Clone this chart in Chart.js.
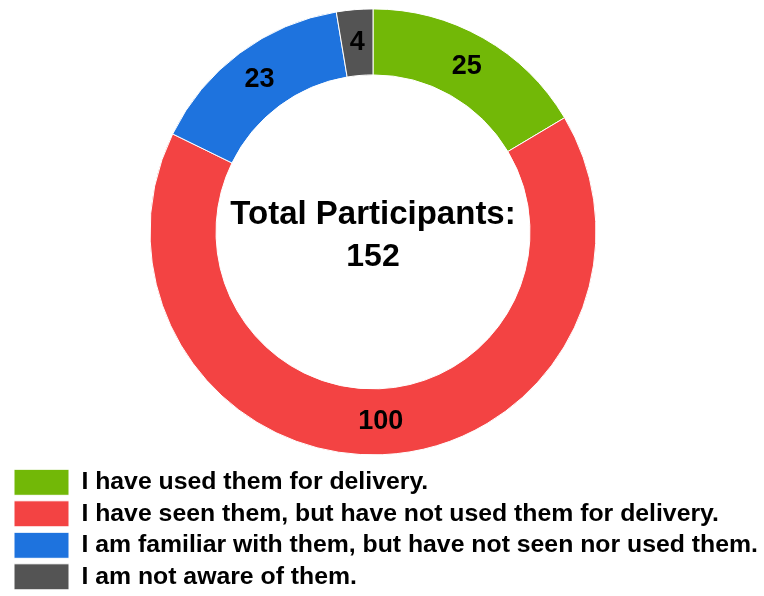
<!DOCTYPE html>
<html>
<head>
<meta charset="utf-8">
<script src="https://cdn.jsdelivr.net/npm/chart.js@4.4.1/dist/chart.umd.min.js"></script>
<style>
  html, body { margin: 0; padding: 0; background: #ffffff; }
  #wrap { width: 764px; height: 596px; position: relative; }
</style>
</head>
<body>
<div id="wrap"><canvas id="c"></canvas></div>
<script>
const categories = [
  "I have used them for delivery.",
  "I have seen them, but have not used them for delivery.",
  "I am familiar with them, but have not seen nor used them.",
  "I am not aware of them."
];
const participantCounts = [25, 100, 23, 4];
const sliceColors = ["#72b807", "#f34343", "#1e73de", "#545454"];
const centerTitle = "Total Participants:";

const FONT = "'Liberation Sans', Arial, Helvetica, sans-serif";

const legendTrim = {
  id: 'legendTrim',
  beforeUpdate(chart) {
    const lg = chart.legend;
    if (lg && !lg._trimmed) {
      const orig = lg.fit;
      lg.fit = function () { orig.call(this); this.height -= 3.8; };
      lg._trimmed = true;
    }
  }
};

const labelsAndCenter = {
  id: 'labelsAndCenter',
  afterDatasetsDraw(chart) {
    const ctx = chart.ctx;
    const meta = chart.getDatasetMeta(0);
    const values = chart.data.datasets[0].data;
    ctx.save();
    ctx.fillStyle = '#000';
    ctx.textAlign = 'center';
    ctx.textBaseline = 'middle';
    ctx.font = "bold 27px " + FONT;
    meta.data.forEach((arc, i) => {
      const p = arc.tooltipPosition();
      ctx.fillText(String(values[i]), p.x, p.y);
    });
    const arc0 = meta.data[0];
    const cx = arc0.x, cy = arc0.y;
    const total = values.reduce((a, b) => a + b, 0);
    ctx.font = "bold 33px " + FONT;
    ctx.textBaseline = 'alphabetic';
    ctx.fillText(centerTitle, cx, cy - 8);
    ctx.font = "bold 32px " + FONT;
    ctx.fillText(String(total), cx, cy + 34);
    ctx.restore();
  }
};

new Chart(document.getElementById('c'), {
  type: 'doughnut',
  data: {
    labels: categories,
    datasets: [{
      data: participantCounts,
      backgroundColor: sliceColors,
      borderColor: '#ffffff',
      borderWidth: 1,
      hoverOffset: 0
    }]
  },
  options: {
    responsive: true,
    maintainAspectRatio: false,
    animation: false,
    radius: 223,
    cutout: '70.4%',
    layout: { padding: { top: -3, left: 8.5, right: 0, bottom: 0 } },
    plugins: {
      tooltip: { enabled: false },
      title: {
        display: true,
        text: '',
        position: 'right',
        padding: 7.25,
        font: { size: 10, lineHeight: 1.2 }
      },
      legend: {
        position: 'bottom',
        align: 'start',
        labels: {
          boxWidth: 55,
          boxHeight: 26,
          padding: 5.5,
          color: '#000',
          font: { family: FONT, size: 24.8, weight: 'bold' }
        }
      }
    }
  },
  plugins: [legendTrim, labelsAndCenter]
});
</script>
</body>
</html>
